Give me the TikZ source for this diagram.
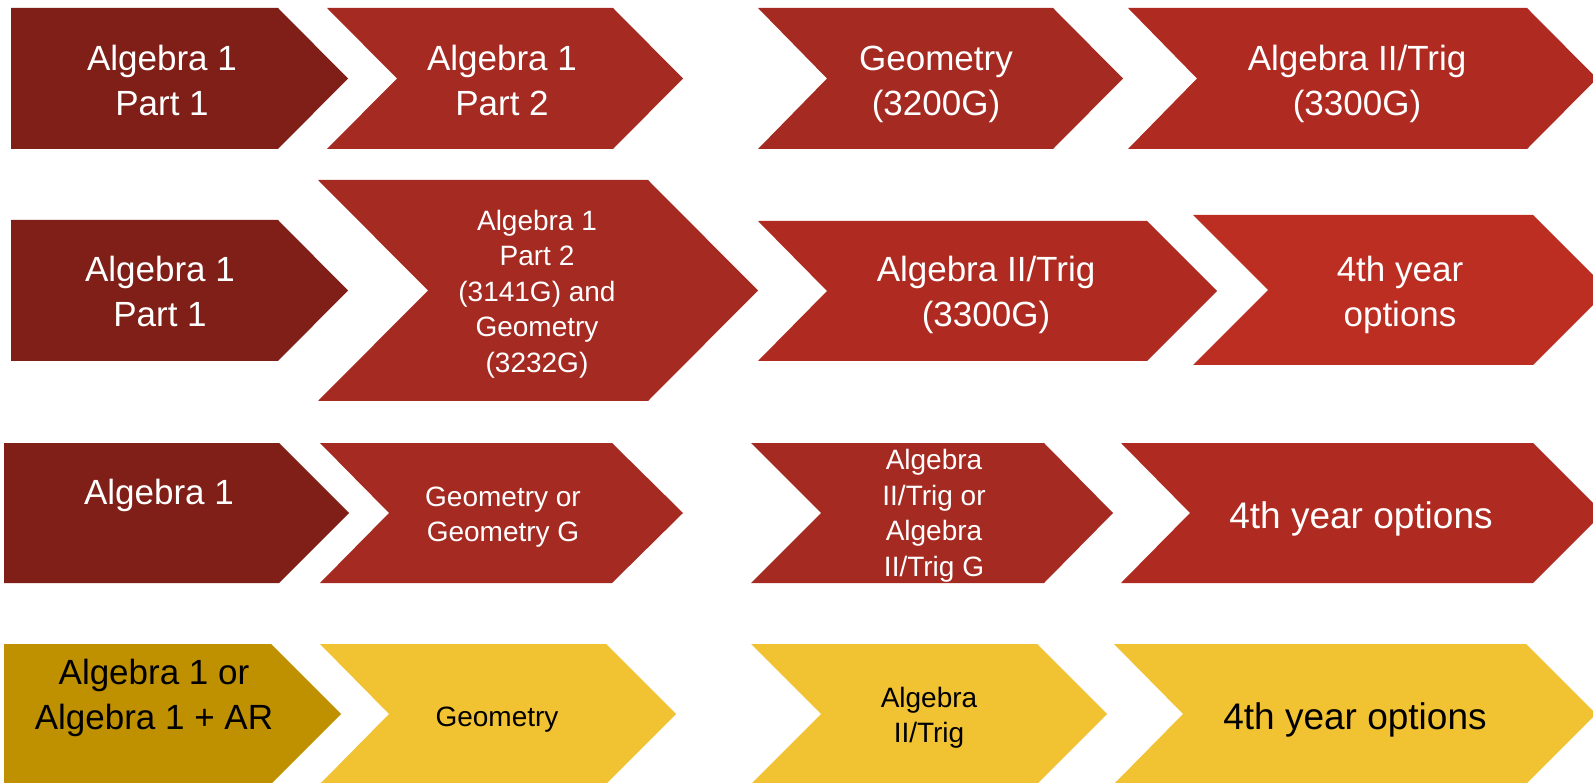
\documentclass[tikz,border=0pt]{standalone}
\usepackage{fontspec}
\setmainfont{Liberation Sans}
\definecolor{dred}{HTML}{7F1F17}
\definecolor{mred}{HTML}{A52A21}
\definecolor{bred}{HTML}{AF2A21}
\definecolor{lred}{HTML}{BC2E22}
\definecolor{dgold}{HTML}{BF9000}
\definecolor{lgold}{HTML}{F1C232}
\newcommand\chevshape[7]{%
  \fill[#1] (#2,#6) -- (#4,#6) -- (#5,{(#6+#7)/2}) -- (#4,#7) -- (#2,#7) -- (#3,{(#6+#7)/2}) -- cycle;}
\tikzset{
  lbl/.style={inner sep=0pt, align=center, text=white},
  bigtxt/.style={lbl, font=\fontsize{35}{45}\selectfont},
  smalltxt/.style={lbl, font=\fontsize{28}{35.5}\selectfont},
  hugetxt/.style={lbl, font=\fontsize{37}{45}\selectfont},
  darktxt/.style={text=black}
}
\begin{document}
\begin{tikzpicture}[x=1pt,y=-1pt]
\clip (0,0) rectangle (1593,783);
% Row 1
\chevshape{dred}{11}{11}{278}{348}{8}{149}
\chevshape{mred}{327}{397}{613}{683}{8}{149}
\chevshape{mred}{758}{827}{1053}{1123}{8}{149}
\chevshape{bred}{1128}{1197}{1527}{1597}{8}{149}
\node[bigtxt] (r1a) at (162,80) {Algebra 1\\Part 1};
\node[bigtxt] (r1b) at (502,80) {Algebra 1\\Part 2};
\node[bigtxt] (r1c) at (936,84) {Geometry\\(3200G)};
\node[bigtxt] (r1d) at (1357,84) {Algebra II/Trig\\(3300G)};
% Row 2
\chevshape{dred}{11}{11}{278}{348}{220}{361}
\chevshape{mred}{318}{428}{648}{758}{180}{401}
\chevshape{bred}{758}{827}{1147}{1217}{221}{361}
\chevshape{lred}{1193}{1268}{1533}{1608}{215}{365}
\node[bigtxt] (r2a) at (160,291) {Algebra 1\\Part 1};
\node[smalltxt] (r2b) at (537,294) {Algebra 1\\Part 2\\(3141G) and\\Geometry\\(3232G)};
\node[bigtxt] (r2c) at (986,295) {Algebra II/Trig\\(3300G)};
\node[bigtxt] (r2d) at (1400,295) {4th year\\options};
% Row 3
\chevshape{dred}{4}{4}{279}{349}{443}{583}
\chevshape{mred}{320}{389}{612}{683}{443}{583}
\chevshape{mred}{751}{821}{1044}{1113}{443}{583}
\chevshape{bred}{1121}{1190}{1533}{1603}{443}{583}
\node[bigtxt] (r3a) at (159,495) {Algebra 1};
\node[smalltxt] (r3b) at (503,517) {Geometry or\\Geometry G};
\node[smalltxt] (r3c) at (934,516) {Algebra\\II/Trig or\\Algebra\\II/Trig G};
\node[hugetxt] (r3d) at (1361,519) {4th year options};
% Row 4
\chevshape{dgold}{4}{4}{271}{341}{644}{784}
\chevshape{lgold}{320}{389}{606}{676}{644}{784}
\chevshape{lgold}{751}{821}{1037}{1107}{644}{784}
\chevshape{lgold}{1114}{1183}{1526}{1596}{644}{784}
\node[bigtxt,darktxt] (r4a) at (154,698) {Algebra 1 or\\Algebra 1 + AR};
\node[smalltxt,darktxt] (r4b) at (497,720) {Geometry};
\node[smalltxt,darktxt] (r4c) at (929,718) {Algebra\\II/Trig};
\node[hugetxt,darktxt] (r4d) at (1355,720) {4th year options};
\end{tikzpicture}
\end{document}
